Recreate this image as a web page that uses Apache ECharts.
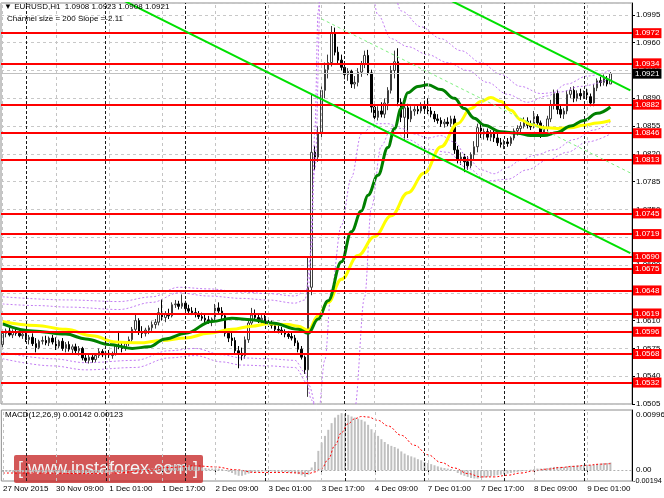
<!DOCTYPE html>
<html><head><meta charset="utf-8">
<script src="https://cdn.jsdelivr.net/npm/echarts@6/dist/echarts.min.js"></script>
<style>html,body{margin:0;padding:0;background:#fff}#c{width:664px;height:498px}</style>
</head><body><div id="c"></div>
<script>
const FONT = '"Liberation Sans", Arial, sans-serif';
// x-axis tick labels, one every 16 hourly bars
const tickLabels = ["27 Nov 2015","30 Nov 09:00","1 Dec 01:00","1 Dec 17:00","2 Dec 09:00","3 Dec 01:00","3 Dec 17:00","4 Dec 09:00","7 Dec 01:00","7 Dec 17:00","8 Dec 09:00","9 Dec 01:00"];
const tickEvery = 16;
const daySeparators = [7,31,55,79,103,127,151,175];
const slotCount = 190; // 184 bars + empty space on the right
const categories = Array.from({length: slotCount}, (_, i) => String(i));

const opens = [
1.0580,1.0594,1.0597,1.0592,1.0596,1.0594,1.0591,1.0593,1.0586,1.0589,
1.0581,1.0576,1.0584,1.0585,1.0582,1.0588,1.0583,1.0578,1.0584,1.0575,
1.0580,1.0574,1.0577,1.0572,1.0575,1.0563,1.0560,1.0564,1.0561,1.0566,
1.0571,1.0567,1.0569,1.0566,1.0568,1.0578,1.0577,1.0575,1.0581,1.0586,
1.0599,1.0610,1.0596,1.0594,1.0598,1.0601,1.0605,1.0608,1.0620,1.0614,
1.0619,1.0616,1.0630,1.0631,1.0628,1.0632,1.0625,1.0622,1.0620,1.0618,
1.0615,1.0613,1.0611,1.0609,1.0612,1.0626,1.0622,1.0616,1.0594,1.0588,
1.0585,1.0572,1.0569,1.0566,1.0586,1.0607,1.0617,1.0614,1.0611,1.0613,
1.0608,1.0606,1.0604,1.0599,1.0598,1.0595,1.0593,1.0590,1.0588,1.0582,
1.0574,1.0564,1.0548,1.0652,1.0822,1.0816,1.0846,1.0900,1.0926,1.0935,
1.0972,1.0948,1.0938,1.0929,1.0920,1.0924,1.0908,1.0910,1.0923,1.0933,
1.0944,1.0922,1.0879,1.0866,1.0874,1.0870,1.0884,1.0900,1.0925,1.0936,
1.0885,1.0866,1.0878,1.0864,1.0874,1.0876,1.0874,1.0880,1.0877,1.0874,
1.0870,1.0864,1.0862,1.0858,1.0860,1.0858,1.0864,1.0825,1.0812,1.0816,
1.0810,1.0805,1.0819,1.0829,1.0853,1.0845,1.0848,1.0841,1.0847,1.0840,
1.0834,1.0832,1.0835,1.0833,1.0840,1.0849,1.0852,1.0855,1.0861,1.0856,
1.0854,1.0867,1.0859,1.0846,1.0852,1.0864,1.0882,1.0896,1.0876,1.0870,
1.0874,1.0895,1.0900,1.0890,1.0896,1.0893,1.0897,1.0892,1.0884,1.0903,
1.0912,1.0910,1.0915,1.0908];
const highs = [
1.0596,1.0600,1.0601,1.0599,1.0600,1.0598,1.0596,1.0597,1.0592,1.0594,
1.0588,1.0586,1.0590,1.0591,1.0590,1.0592,1.0589,1.0586,1.0588,1.0583,
1.0584,1.0580,1.0581,1.0578,1.0577,1.0568,1.0567,1.0567,1.0569,1.0575,
1.0574,1.0572,1.0573,1.0571,1.0580,1.0597,1.0583,1.0584,1.0590,1.0602,
1.0618,1.0613,1.0603,1.0601,1.0604,1.0609,1.0612,1.0626,1.0637,1.0622,
1.0625,1.0633,1.0636,1.0635,1.0643,1.0635,1.0630,1.0627,1.0626,1.0622,
1.0620,1.0618,1.0616,1.0614,1.0631,1.0633,1.0627,1.0619,1.0600,1.0595,
1.0589,1.0578,1.0576,1.0590,1.0611,1.0626,1.0624,1.0619,1.0617,1.0618,
1.0613,1.0610,1.0608,1.0604,1.0602,1.0599,1.0597,1.0595,1.0592,1.0585,
1.0578,1.0566,1.0689,1.0895,1.0830,1.0855,1.0905,1.0935,1.0945,1.0981,
1.0979,1.0955,1.0945,1.0936,1.0928,1.0926,1.0918,1.0928,1.0937,1.0950,
1.0951,1.0926,1.0885,1.0880,1.0885,1.0890,1.0904,1.0931,1.0950,1.0953,
1.0890,1.0884,1.0883,1.0880,1.0880,1.0881,1.0885,1.0887,1.0890,1.0879,
1.0874,1.0870,1.0866,1.0864,1.0866,1.0868,1.0868,1.0830,1.0822,1.0820,
1.0817,1.0822,1.0836,1.0858,1.0858,1.0852,1.0852,1.0850,1.0851,1.0845,
1.0840,1.0838,1.0840,1.0842,1.0852,1.0856,1.0860,1.0866,1.0866,1.0862,
1.0874,1.0870,1.0862,1.0856,1.0868,1.0888,1.0901,1.0900,1.0882,1.0878,
1.0900,1.0904,1.0905,1.0900,1.0902,1.0900,1.0902,1.0896,1.0908,1.0915,
1.0917,1.0920,1.0918,1.0923];
const lows = [
1.0575,1.0589,1.0590,1.0588,1.0591,1.0589,1.0587,1.0583,1.0580,1.0578,
1.0570,1.0574,1.0580,1.0579,1.0578,1.0580,1.0573,1.0575,1.0572,1.0570,
1.0571,1.0568,1.0569,1.0566,1.0560,1.0557,1.0556,1.0557,1.0558,1.0563,
1.0564,1.0561,1.0563,1.0562,1.0566,1.0574,1.0570,1.0572,1.0578,1.0583,
1.0595,1.0592,1.0588,1.0590,1.0593,1.0597,1.0600,1.0604,1.0610,1.0608,
1.0612,1.0614,1.0626,1.0624,1.0625,1.0622,1.0619,1.0617,1.0614,1.0612,
1.0610,1.0607,1.0606,1.0603,1.0609,1.0618,1.0612,1.0590,1.0583,1.0578,
1.0568,1.0550,1.0560,1.0562,1.0582,1.0602,1.0610,1.0607,1.0606,1.0605,
1.0602,1.0600,1.0596,1.0594,1.0592,1.0589,1.0587,1.0585,1.0578,1.0570,
1.0561,1.0543,1.0514,1.0642,1.0800,1.0810,1.0840,1.0890,1.0915,1.0930,
1.0944,1.0934,1.0925,1.0914,1.0912,1.0903,1.0902,1.0905,1.0917,1.0928,
1.0919,1.0872,1.0860,1.0862,1.0866,1.0865,1.0875,1.0896,1.0915,1.0880,
1.0860,1.0837,1.0840,1.0860,1.0868,1.0870,1.0871,1.0873,1.0870,1.0866,
1.0860,1.0858,1.0854,1.0853,1.0855,1.0854,1.0820,1.0808,1.0806,1.0797,
1.0800,1.0802,1.0812,1.0822,1.0840,1.0838,1.0837,1.0836,1.0835,1.0830,
1.0828,1.0826,1.0829,1.0830,1.0837,1.0843,1.0845,1.0852,1.0852,1.0850,
1.0852,1.0855,1.0840,1.0842,1.0848,1.0860,1.0876,1.0870,1.0865,1.0864,
1.0870,1.0890,1.0885,1.0886,1.0888,1.0889,1.0888,1.0880,1.0880,1.0899,
1.0905,1.0906,1.0905,1.0908];
const closes = [
1.0594,1.0597,1.0592,1.0596,1.0594,1.0591,1.0593,1.0586,1.0589,1.0581,
1.0576,1.0584,1.0585,1.0582,1.0588,1.0583,1.0578,1.0584,1.0575,1.0580,
1.0574,1.0577,1.0572,1.0575,1.0563,1.0560,1.0564,1.0561,1.0566,1.0571,
1.0567,1.0569,1.0566,1.0568,1.0578,1.0577,1.0575,1.0581,1.0586,1.0599,
1.0610,1.0596,1.0594,1.0598,1.0601,1.0605,1.0608,1.0620,1.0614,1.0619,
1.0616,1.0630,1.0631,1.0628,1.0632,1.0625,1.0622,1.0620,1.0618,1.0615,
1.0613,1.0611,1.0609,1.0612,1.0626,1.0622,1.0616,1.0594,1.0588,1.0585,
1.0572,1.0569,1.0566,1.0586,1.0607,1.0617,1.0614,1.0611,1.0613,1.0608,
1.0606,1.0604,1.0599,1.0598,1.0595,1.0593,1.0590,1.0588,1.0582,1.0574,
1.0564,1.0548,1.0652,1.0822,1.0816,1.0846,1.0900,1.0926,1.0935,1.0972,
1.0948,1.0938,1.0929,1.0920,1.0924,1.0908,1.0910,1.0923,1.0933,1.0944,
1.0922,1.0879,1.0866,1.0874,1.0870,1.0884,1.0900,1.0925,1.0936,1.0885,
1.0866,1.0878,1.0864,1.0874,1.0876,1.0874,1.0880,1.0877,1.0874,1.0870,
1.0864,1.0862,1.0858,1.0860,1.0858,1.0864,1.0825,1.0812,1.0816,1.0810,
1.0805,1.0819,1.0829,1.0853,1.0845,1.0848,1.0841,1.0847,1.0840,1.0834,
1.0832,1.0835,1.0833,1.0840,1.0849,1.0852,1.0855,1.0861,1.0856,1.0854,
1.0867,1.0859,1.0846,1.0852,1.0864,1.0882,1.0896,1.0876,1.0870,1.0874,
1.0895,1.0900,1.0890,1.0896,1.0893,1.0897,1.0892,1.0884,1.0903,1.0912,
1.0910,1.0915,1.0908,1.0921];

// moving averages, read at sample bars: [barIndex, price]
const maGreen = [[0,1.0606],[9,1.0597],[19,1.0593],[25,1.0587],[32,1.0580],[39,1.0575],[44,1.0577],[49,1.0587],[55,1.0594],[63,1.0609],[69,1.0613],[75,1.0611],[81,1.0607],[89,1.0599],[92,1.0594],[95,1.0612],[98,1.0635],[102,1.0684],[105,1.0722],[108,1.0748],[110,1.0768],[113,1.0793],[116,1.0828],[118,1.0852],[120,1.0877],[122,1.0897],[125,1.0905],[128,1.0907],[132,1.0901],[136,1.0890],[139,1.0877],[142,1.0865],[145,1.0856],[150,1.0848],[155,1.0846],[159,1.0843],[163,1.0843],[167,1.0847],[171,1.0855],[175,1.0862],[179,1.0871],[183,1.0879]];
const maYellow = [[0,1.0609],[10,1.0604],[19,1.0599],[27,1.0591],[34,1.0583],[41,1.0582],[48,1.0585],[55,1.0588],[62,1.0594],[69,1.0599],[75,1.0603],[80,1.0606],[86,1.0605],[89,1.0603],[92,1.0598],[95,1.0616],[98,1.0633],[102,1.0662],[107,1.0692],[112,1.0716],[117,1.0742],[122,1.0771],[127,1.0796],[132,1.0829],[137,1.0858],[141,1.0877],[144,1.0886],[147,1.0891],[150,1.0886],[153,1.0875],[156,1.0863],[159,1.0857],[163,1.0853],[167,1.0852],[171,1.0853],[175,1.0856],[179,1.0859],[183,1.0862]];
// envelope bands (dotted violet)
const bandUpperA = [[0,1.0631],[10,1.0629],[20,1.0627],[35,1.0624],[45,1.0633],[53,1.0645],[62,1.0641],[72,1.0638],[80,1.0636],[88,1.0632],[91,1.0636],[93,1.0700],[94,1.0850],[95,1.1000],[96,1.1060],[110,1.1060],[113,1.0995],[117,1.0965],[122,1.0955],[128,1.0945],[134,1.0935],[140,1.0925],[146,1.0910],[152,1.0895],[158,1.0885],[164,1.0893],[170,1.0908],[176,1.0918],[183,1.0925]];
const bandLowerA = [[0,1.0570],[15,1.0562],[25,1.0557],[40,1.0560],[50,1.0572],[58,1.0575],[66,1.0567],[72,1.0563],[80,1.0562],[88,1.0560],[91,1.0545],[93,1.0510],[95,1.0490],[97,1.0560],[99,1.0650],[102,1.0730],[105,1.0790],[108,1.0845],[112,1.0858],[116,1.0858],[120,1.0852],[124,1.0845],[128,1.0840],[132,1.0843],[136,1.0835],[140,1.0815],[144,1.0800],[148,1.0795],[152,1.0803],[156,1.0812],[160,1.0818],[166,1.0825],[172,1.0838],[178,1.0850],[183,1.0860]];
const bandUpperB = [[0,1.0640],[20,1.0636],[35,1.0634],[45,1.0640],[53,1.0652],[62,1.0650],[72,1.0646],[80,1.0644],[88,1.0641],[92,1.0650],[94,1.0800],[96,1.1060],[116,1.1060],[120,1.1000],[126,1.0980],[132,1.0965],[138,1.0950],[144,1.0935],[150,1.0920],[156,1.0905],[162,1.0896],[168,1.0898],[174,1.0905],[183,1.0915]];
const bandLowerB = [[0,1.0562],[15,1.0553],[25,1.0548],[40,1.0551],[50,1.0563],[58,1.0566],[66,1.0558],[72,1.0554],[80,1.0553],[88,1.0551],[92,1.0530],[96,1.0470],[100,1.0450],[104,1.0470],[106,1.0500],[109,1.0640],[111,1.0752],[114,1.0830],[117,1.0852],[122,1.0838],[128,1.0826],[134,1.0822],[140,1.0802],[146,1.0786],[152,1.0788],[158,1.0800],[164,1.0812],[170,1.0822],[176,1.0835],[183,1.0845]];
// regression channel: [barIndex, price] end points
const channelLower = [[36,1.1014],[189,1.0695]];
const channelUpper = [[134,1.1015],[189,1.0900]];
const channelMid = [[96,1.0990],[189,1.0796]];
// horizontal support/resistance levels
const levels = [1.0972,1.0934,1.0882,1.0846,1.0813,1.0745,1.0719,1.0690,1.0675,1.0648,1.0619,1.0596,1.0568,1.0532];
const lastPrice = 1.0921;
const priceMin = 1.0505, priceMax = 1.1010, priceStep = 0.0035;

const macdMain = [
-0.0003,-0.0003,-0.0003,-0.0004,-0.0004,-0.0004,-0.0004,-0.0004,-0.0004,-0.0005,
-0.0006,-0.0005,-0.0005,-0.0005,-0.0004,-0.0005,-0.0005,-0.0005,-0.0005,-0.0005,
-0.0005,-0.0005,-0.0006,-0.0006,-0.0007,-0.0007,-0.0007,-0.0007,-0.0006,-0.0005,
-0.0005,-0.0005,-0.0005,-0.0004,-0.0003,-0.0003,-0.0003,-0.0002,-0.0001,0.0000,
0.0002,0.0002,0.0002,0.0002,0.0003,0.0003,0.0004,0.0006,0.0007,0.0007,
0.0008,0.0009,0.0010,0.0010,0.0010,0.0009,0.0009,0.0008,0.0007,0.0006,
0.0005,0.0004,0.0003,0.0003,0.0003,0.0003,0.0002,-0.0001,-0.0003,-0.0005,
-0.0008,-0.0010,-0.0010,-0.0008,-0.0006,-0.0004,-0.0003,-0.0003,-0.0002,-0.0002,
-0.0002,-0.0002,-0.0003,-0.0003,-0.0003,-0.0003,-0.0004,-0.0004,-0.0005,-0.0007,
-0.0009,-0.0012,-0.0008,0.0005,0.0015,0.0035,0.0050,0.0062,0.0073,0.0085,
0.0095,0.0100,0.0103,0.0102,0.0100,0.0097,0.0095,0.0093,0.0091,0.0088,
0.0082,0.0074,0.0068,0.0062,0.0056,0.0051,0.0047,0.0044,0.0042,0.0039,
0.0034,0.0030,0.0027,0.0025,0.0023,0.0020,0.0018,0.0015,0.0013,0.0011,
0.0009,0.0007,0.0005,0.0004,0.0003,0.0002,-0.0001,-0.0005,-0.0008,-0.0010,
-0.0012,-0.0014,-0.0015,-0.0015,-0.0014,-0.0013,-0.0012,-0.0011,-0.0010,-0.0009,
-0.0008,-0.0007,-0.0006,-0.0005,-0.0004,-0.0003,-0.0002,-0.0001,0.0000,0.0001,
0.0002,0.0003,0.0003,0.0003,0.0004,0.0005,0.0006,0.0006,0.0006,0.0006,
0.0007,0.0008,0.0008,0.0009,0.0009,0.0009,0.0010,0.0009,0.0010,0.0011,
0.0012,0.0013,0.0013,0.0014];
const macdSignal = [[0,-0.0005],[12,-0.0005],[24,-0.0006],[34,-0.0005],[42,-0.0001],[50,0.0005],[58,0.0008],[64,0.0006],[70,0.0001],[76,-0.0004],[84,-0.0004],[90,-0.0005],[92,-0.0006],[94,-0.0003],[96,0.0003],[98,0.0020],[100,0.0045],[102,0.0068],[104,0.0084],[106,0.0093],[108,0.0097],[110,0.0096],[113,0.0090],[116,0.0080],[120,0.0063],[124,0.0045],[128,0.0028],[132,0.0014],[136,0.0004],[140,-0.0006],[144,-0.0012],[148,-0.0012],[152,-0.0009],[156,-0.0005],[160,-0.0001],[164,0.0002],[168,0.0005],[172,0.0007],[176,0.0009],[180,0.0011],[183,0.0012]];
const macdMin = -0.00194, macdMax = 0.01087;
const macdLabels = [0.00996, 0, -0.00194];

const candles = opens.map((o, i) => [o, closes[i], lows[i], highs[i]]);
const gridTicks = tickLabels.map((_, k) => k * tickEvery);

function vLines(xi, yi) {
  return [
    {type:'line', xAxisIndex:xi, yAxisIndex:yi, data:[], silent:true, z:1,
     markLine:{silent:true, symbol:['none','none'], label:{show:false}, animation:false,
       lineStyle:{color:'#c4c4c4', width:1, type:[3,3]},
       data: gridTicks.map(i => ({xAxis:i}))}},
    {type:'line', xAxisIndex:xi, yAxisIndex:yi, data:[], silent:true, z:1,
     markLine:{silent:true, symbol:['none','none'], label:{show:false}, animation:false,
       lineStyle:{color:'#1a1a1a', width:1, type:[3,2]},
       data: daySeparators.map(i => ({xAxis:i}))}}
  ];
}
function band(data) {
  return {type:'line', xAxisIndex:0, yAxisIndex:0, data, symbol:'none', smooth:0.35, smoothMonotone:'x',
    clip:true, z:3, silent:true, lineStyle:{color:'#c27cf2', width:1, type:[2,2]}};
}

const chart = echarts.init(document.getElementById('c'), null, {renderer:'canvas'});
chart.setOption({
  animation:false,
  backgroundColor:'#ffffff',
  textStyle:{fontFamily:FONT},
  grid:[
    {left:1, right:32, top:3, height:401, show:true, borderColor:'#8c8c8c', borderWidth:1, backgroundColor:'#fff'},
    {left:1, right:32, top:410, height:71, show:true, borderColor:'#8c8c8c', borderWidth:1, backgroundColor:'#fff'}
  ],
  xAxis:[
    {type:'category', gridIndex:0, data:categories, boundaryGap:true,
     axisLine:{show:false}, axisTick:{show:false}, axisLabel:{show:false}, splitLine:{show:false}},
    {type:'category', gridIndex:1, data:categories, boundaryGap:true,
     axisLine:{show:false},
     axisTick:{show:true, interval:tickEvery-1, alignWithLabel:true, length:3, lineStyle:{color:'#000'}},
     axisLabel:{interval:tickEvery-1, align:'left', fontSize:8, color:'#000', margin:4, fontFamily:FONT,
       formatter:(v, i) => tickLabels[i / tickEvery] || ''},
     splitLine:{show:false}}
  ],
  yAxis:[
    {type:'value', gridIndex:0, position:'right', min:priceMin, max:priceMax, interval:priceStep,
     axisLine:{show:true, lineStyle:{color:'#000'}},
     axisTick:{show:true, length:3, lineStyle:{color:'#000'}},
     axisLabel:{fontSize:8, color:'#000', margin:4, fontFamily:FONT, showMaxLabel:false,
       formatter:v => v.toFixed(4)},
     splitLine:{show:true, lineStyle:{color:'#c8c8c8', width:1, type:[3,3]}}},
    {type:'value', gridIndex:1, position:'right', min:macdMin, max:macdMax,
     axisLine:{show:true, lineStyle:{color:'#000'}}, axisTick:{show:false},
     axisLabel:{show:false}, splitLine:{show:false}}
  ],
  series:[
    ...vLines(0,0),
    ...vLines(1,1),
    {type:'candlestick', xAxisIndex:0, yAxisIndex:0, data:candles, barWidth:2, z:2, silent:true,
     itemStyle:{color:'#ffffff', color0:'#000000', borderColor:'#3c3c3c', borderColor0:'#000000', borderWidth:1}},
    band(bandUpperA), band(bandLowerA), band(bandUpperB), band(bandLowerB),
    {type:'line', xAxisIndex:0, yAxisIndex:0, data:maYellow, symbol:'none', smooth:0.4, smoothMonotone:'x', z:4, silent:true,
     lineStyle:{color:'#ffff00', width:3}},
    {type:'line', xAxisIndex:0, yAxisIndex:0, data:maGreen, symbol:'none', smooth:0.4, smoothMonotone:'x', z:4, silent:true,
     lineStyle:{color:'#008000', width:3}},
    {type:'line', xAxisIndex:0, yAxisIndex:0, data:channelLower, symbol:'none', clip:true, z:5, silent:true,
     lineStyle:{color:'#00e000', width:2}},
    {type:'line', xAxisIndex:0, yAxisIndex:0, data:channelUpper, symbol:'none', clip:true, z:5, silent:true,
     lineStyle:{color:'#00e000', width:2}},
    {type:'line', xAxisIndex:0, yAxisIndex:0, data:channelMid, symbol:'none', clip:true, z:5, silent:true,
     lineStyle:{color:'#7ef07e', width:1, type:[3,3]}},
    {type:'line', xAxisIndex:0, yAxisIndex:0, data:[], silent:true, z:6,
     markLine:{silent:true, symbol:['none','none'], animation:false, precision:4,
       lineStyle:{color:'#c0c0c0', width:1, type:'solid'},
       label:{show:true, position:'end', distance:1, formatter:p => Number(p.value).toFixed(4),
         backgroundColor:'#000', color:'#fff', fontSize:8, fontFamily:FONT, padding:[1,2,0,2], lineHeight:9},
       data:[{yAxis:lastPrice}]}},
    {type:'line', xAxisIndex:0, yAxisIndex:0, data:[], silent:true, z:7,
     markLine:{silent:true, symbol:['none','none'], animation:false, precision:4,
       lineStyle:{color:'#ff0000', width:2, type:'solid'},
       label:{show:true, position:'end', distance:1, formatter:p => Number(p.value).toFixed(4),
         backgroundColor:'#ff0000', color:'#fff', fontSize:8, fontFamily:FONT, padding:[1,2,0,2], lineHeight:9},
       data: levels.map(v => ({yAxis:v}))}},
    {type:'bar', xAxisIndex:1, yAxisIndex:1, data:macdMain, barWidth:2, silent:true, z:2,
     itemStyle:{color:'#c0c0c0'}},
    {type:'line', xAxisIndex:1, yAxisIndex:1, data:macdSignal, symbol:'none', smooth:0.4, smoothMonotone:'x', silent:true, z:3,
     lineStyle:{color:'#ff0000', width:1, type:[2,2]}},
    {type:'line', xAxisIndex:1, yAxisIndex:1, data:[], silent:true, z:4,
     markLine:{silent:true, symbol:['none','none'], animation:false, precision:5,
       lineStyle:{color:'#b0b0b0', width:1, type:[2,2]},
       label:{show:true, position:'end', distance:4, color:'#000', fontSize:8, fontFamily:FONT,
         formatter:p => (Number(p.value) === 0 ? '0.00' : Number(p.value).toFixed(5))},
       data: macdLabels.map(v => ({yAxis:v,
         lineStyle:{color: v === 0 ? '#b0b0b0' : 'rgba(255,255,255,0)'},
         label: v < 0 ? {color:'#000', distance:1, fontSize:7.3} : {color:'#000'}}))}}
  ],
  graphic:[
    {type:'text', left:4, top:3, z:50, style:{text:'\u25BC EURUSD,H1  1.0908 1.0923 1.0908 1.0921', font:'8px ' + FONT, fill:'#000'}},
    {type:'text', left:7, top:15, z:50, style:{text:'Channel size = 200 Slope =-2.11', font:'8px ' + FONT, fill:'#000'}},
    {type:'text', left:5, top:411, z:50, style:{text:'MACD(12,26,9) 0.00142 0.00123', font:'8px ' + FONT, fill:'#000'}},
    {type:'group', left:14, top:455, z:60, children:[
      {type:'rect', shape:{x:0, y:0, width:189, height:28, r:2}, style:{fill:'rgba(198,40,40,0.78)'}},
      {type:'text', x:94, y:14, style:{text:'[ www.instaforex.com ]', font:'18px ' + FONT, fill:'#f4f4f4', align:'center', verticalAlign:'middle'}}
    ]}
  ]
});
</script>
</body></html>
